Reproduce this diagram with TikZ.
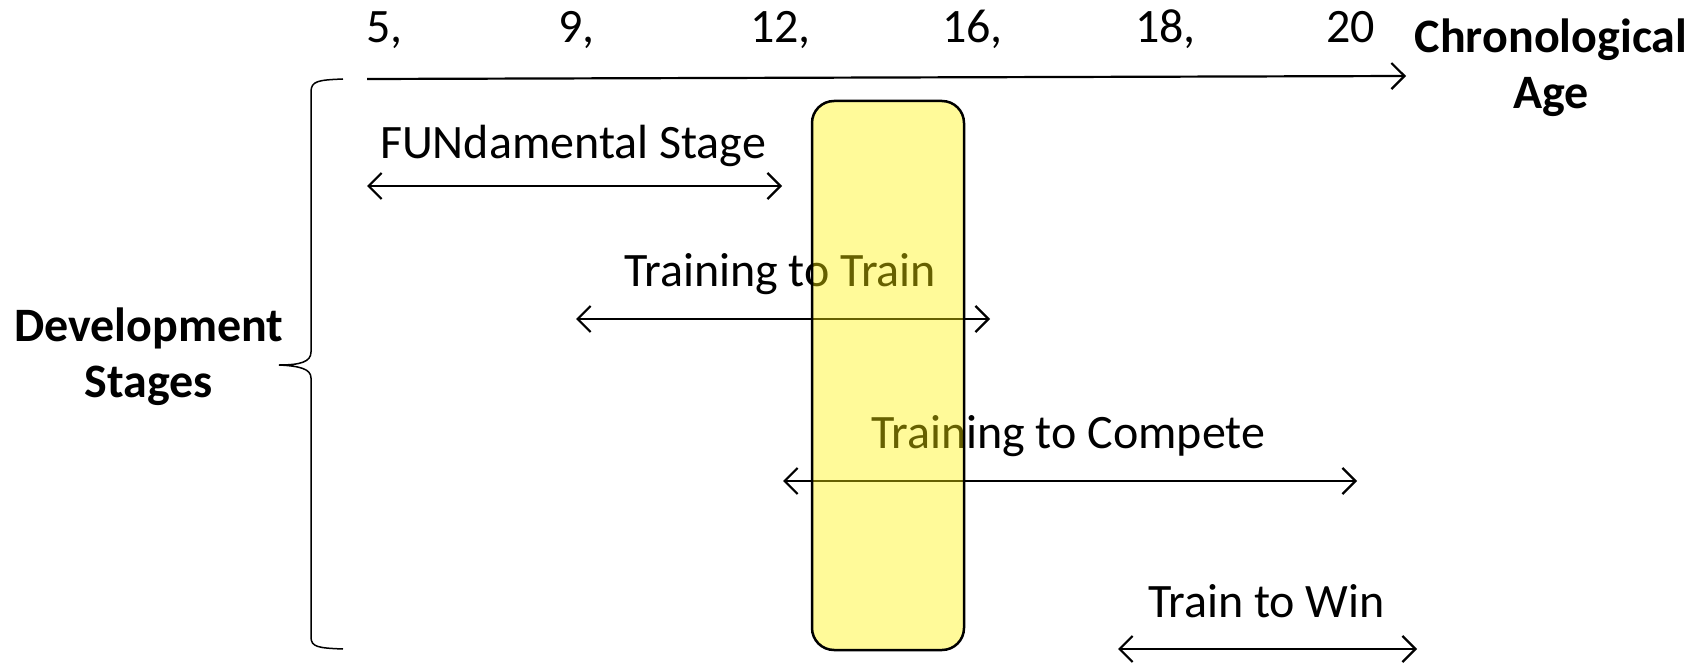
\documentclass[tikz,border=0pt]{standalone}
\usepackage{fontspec}
\setmainfont{Carlito}
\usetikzlibrary{arrows.meta}
\tikzset{
  lbl/.style={font=\fontsize{48}{57}\selectfont, inner sep=0pt, outer sep=0pt},
  blbl/.style={font=\fontsize{48}{56}\selectfont\bfseries, inner sep=0pt, outer sep=0pt, align=center},
  rangearrow/.style={line width=2.2pt, {Straight Barb[length=13pt,width=26pt,line width=2.2pt]}-{Straight Barb[length=13pt,width=26pt,line width=2.2pt]}},
  axisarrow/.style={line width=2.2pt, -{Straight Barb[length=13pt,width=26pt,line width=2.2pt]}},
  bracepath/.style={line width=1.5pt},
  agebox/.style={draw=black, line width=2.5pt, fill=yellow, fill opacity=0.4, draw opacity=1, rounded corners=22pt, minimum width=152pt, minimum height=549pt, inner sep=0pt}
}
\begin{document}
\begin{tikzpicture}[x=1pt,y=-1pt]
\useasboundingbox (0,0) rectangle (1693,663);
% tick labels
\node[lbl, anchor=base west] (t5)  at (366,43)  {5,};
\node[lbl, anchor=base west] (t9)  at (558,43)  {9,};
\node[lbl, anchor=base west] (t12) at (750,43)  {12,};
\node[lbl, anchor=base west] (t16) at (942,43)  {16,};
\node[lbl, anchor=base west] (t18) at (1135,43) {18,};
\node[lbl, anchor=base west] (t20) at (1326,43) {20};
% axis
\coordinate (axA) at (367,79);
\coordinate (axB) at (1406,76);
\draw[axisarrow] (axA) -- (axB);
\node[blbl, anchor=base] (chrono) at (1551,109) {Chronological\\Age};
% brace
\draw[bracepath] (343,79) .. controls (318,80) and (311,81) .. (311,92) -- (311,352)
  .. controls (311,362) and (300,365) .. (279,365)
  .. controls (300,366) and (311,369) .. (311,378) -- (311,637)
  .. controls (311,647) and (318,648) .. (343,649);
\node[blbl, anchor=base] (dev) at (149,397) {Development\\Stages};
% stages
\node[lbl, anchor=base west] (fun) at (380,159) {FUNdamental Stage};
\coordinate (funA) at (367,186);
\coordinate (funB) at (782,186);
\draw[rangearrow] (funA) -- (funB);
\node[lbl, anchor=base west] (ttt) at (624,286) {Training to Train};
\coordinate (tttA) at (576,319);
\coordinate (tttB) at (990,319);
\draw[rangearrow] (tttA) -- (tttB);
\node[lbl, anchor=base west] (ttc) at (871,448) {Training to Compete};
\coordinate (ttcA) at (783,481);
\coordinate (ttcB) at (1357,481);
\draw[rangearrow] (ttcA) -- (ttcB);
\node[lbl, anchor=base west] (ttw) at (1148,617) {Train to Win};
\coordinate (ttwA) at (1118,649);
\coordinate (ttwB) at (1417,649);
\draw[rangearrow] (ttwA) -- (ttwB);
% highlight box
\node[agebox] (box) at (888,375.5) {};
\end{tikzpicture}
\end{document}
